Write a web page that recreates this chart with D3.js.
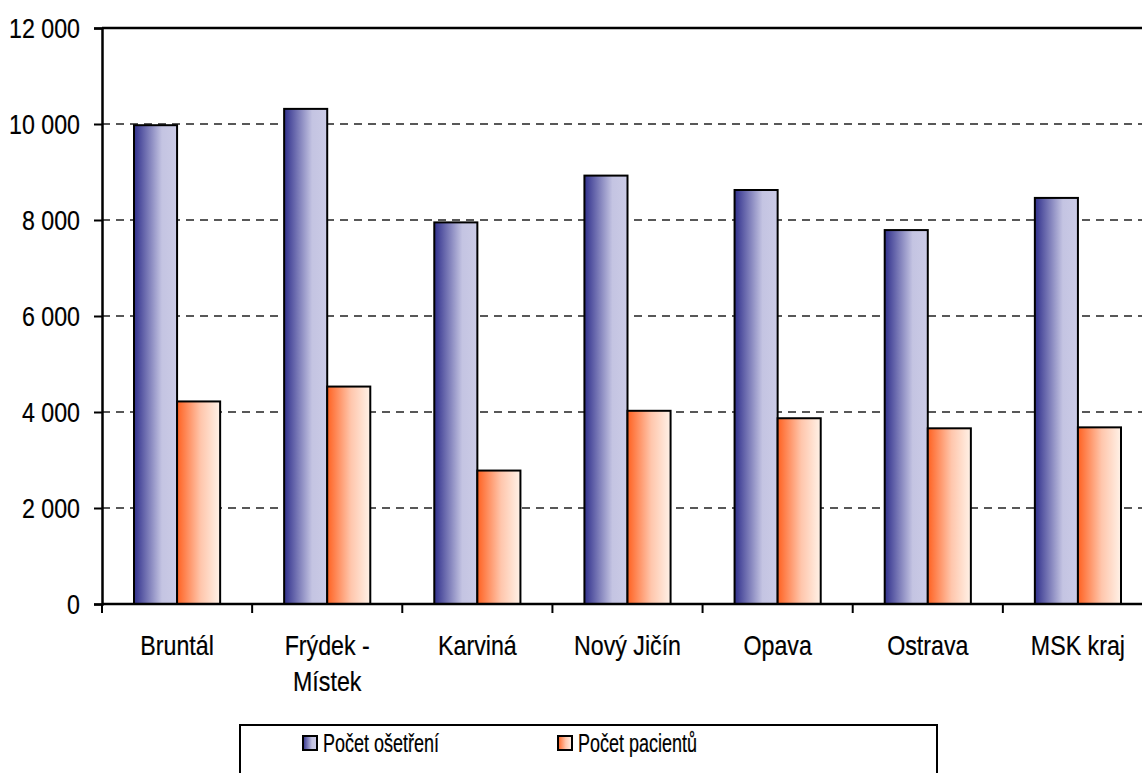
<!DOCTYPE html>
<html>
<head>
<meta charset="utf-8">
<script src="https://cdn.jsdelivr.net/npm/d3@7"></script>
<style>
  body { margin: 0; background: #fff; }
  svg { display: block; font-family: "Liberation Sans", Arial, sans-serif; }
  .lbl { fill: #000; stroke: #000; stroke-width: 0.2px; }
</style>
</head>
<body>
<div id="chart"></div>
<script>
// data
const categories = ["Bruntál", "Frýdek - Místek", "Karviná", "Nový Jičín", "Opava", "Ostrava", "MSK kraj"];
const catLabels = [["Bruntál"], ["Frýdek -", "Místek"], ["Karviná"], ["Nový Jičín"], ["Opava"], ["Ostrava"], ["MSK kraj"]];
const series = ["Počet ošetření", "Počet pacientů"];
const osetreni = [9975, 10315, 7950, 8925, 8625, 7790, 8460];
const pacientu = [4220, 4530, 2780, 4025, 3870, 3660, 3680];
const yTicks = [0, 2000, 4000, 6000, 8000, 10000, 12000];

const W = 1142, H = 773;
const margin = {top: 28, left: 102},
    plotW = 1051,
    plotH = 576;

const svg = d3.select("#chart").append("svg")
    .attr("width", W)
    .attr("height", H);

// gradients
const defs = svg.append("defs");
const gBlue = defs.append("linearGradient").attr("id", "gBlue");
gBlue.append("stop").attr("offset", "0%").attr("stop-color", "#30308c");
gBlue.append("stop").attr("offset", "65%").attr("stop-color", "#c4c4e2");
gBlue.append("stop").attr("offset", "100%").attr("stop-color", "#cbcbe6");
const gOrange = defs.append("linearGradient").attr("id", "gOrange");
gOrange.append("stop").attr("offset", "0%").attr("stop-color", "#ff6222");
gOrange.append("stop").attr("offset", "55%").attr("stop-color", "#ffc6ac");
gOrange.append("stop").attr("offset", "100%").attr("stop-color", "#fff2e8");
const fills = ["url(#gBlue)", "url(#gOrange)"];

const x = d3.scaleBand()
    .domain(categories)
    .range([margin.left, margin.left + plotW]);

const xs = d3.scaleBand()
    .domain(series)
    .range([32, x.bandwidth() - 32]);

const y = d3.scaleLinear()
    .domain([0, 12000])
    .range([margin.top + plotH, margin.top]);

// gridlines
svg.append("g")
    .selectAll("line")
    .data(yTicks.filter(d => d > 0 && d < 12000))
    .enter().append("line")
    .attr("x1", margin.left)
    .attr("x2", margin.left + plotW)
    .attr("y1", d => y(d))
    .attr("y2", d => y(d))
    .attr("stroke", "#222")
    .attr("stroke-width", 1.3)
    .attr("stroke-dasharray", "8,6");

// top frame line
svg.append("line")
    .attr("x1", margin.left).attr("x2", margin.left + plotW)
    .attr("y1", y(12000)).attr("y2", y(12000))
    .attr("stroke", "#000").attr("stroke-width", 2.5);

// bars
const rows = categories.map((c, i) => ({cat: c, vals: [osetreni[i], pacientu[i]]}));
const grp = svg.selectAll(".cat")
    .data(rows)
    .enter().append("g")
    .attr("transform", d => `translate(${x(d.cat)},0)`);

grp.selectAll("rect")
    .data(d => d.vals.map((v, j) => ({s: series[j], v: v, j: j})))
    .enter().append("rect")
    .attr("x", d => xs(d.s))
    .attr("width", xs.bandwidth())
    .attr("y", d => y(d.v))
    .attr("height", d => y(0) - y(d.v))
    .attr("fill", d => fills[d.j])
    .attr("stroke", "#000")
    .attr("stroke-width", 2);

// y axis
const yAxis = svg.append("g")
    .attr("transform", `translate(${margin.left},0)`)
    .call(d3.axisLeft(y).tickValues(yTicks).tickSize(8).tickPadding(0).tickFormat(d => d3.format(",")(d).replace(",", " ")));
yAxis.select(".domain").attr("stroke-width", 2.5);
yAxis.selectAll(".tick line").attr("stroke-width", 2);
yAxis.selectAll(".tick text")
    .attr("x", null).attr("dy", null)
    .attr("class", "lbl")
    .attr("transform", "translate(-22,9.5) scale(0.86,1)")
    .style("font-size", "27px")
    .style("font-family", "'Liberation Sans', Arial, sans-serif");

// x axis line and boundary ticks
svg.append("line")
    .attr("x1", margin.left).attr("x2", margin.left + plotW)
    .attr("y1", y(0)).attr("y2", y(0))
    .attr("stroke", "#000").attr("stroke-width", 2.5);

const edges = categories.map(c => x(c)).concat([x.range()[1]]);
svg.append("g").selectAll("line")
    .data(edges)
    .enter().append("line")
    .attr("x1", d => d).attr("x2", d => d)
    .attr("y1", y(0)).attr("y2", y(0) + 9)
    .attr("stroke", "#000").attr("stroke-width", 2);

// category labels
svg.append("g").selectAll("text")
    .data(categories)
    .enter().append("text")
    .attr("class", "lbl")
    .attr("transform", d => `translate(${x(d) + x.bandwidth() / 2},655) scale(0.86,1)`)
    .attr("text-anchor", "middle")
    .style("font-size", "27px")
    .each(function(d, i) {
        d3.select(this).selectAll("tspan")
            .data(catLabels[i])
            .enter().append("tspan")
            .attr("x", 0)
            .attr("dy", (t, k) => k === 0 ? 0 : 36)
            .text(t => t);
    });

// legend
const legend = svg.append("g");
legend.append("rect")
    .attr("x", 240).attr("y", 725)
    .attr("width", 697).attr("height", 70)
    .attr("fill", "#fff")
    .attr("stroke", "#000").attr("stroke-width", 2);

const legX = [303, 558];
series.forEach((s, i) => {
    legend.append("rect")
        .attr("x", legX[i]).attr("y", 736)
        .attr("width", 14).attr("height", 14)
        .attr("fill", fills[i])
        .attr("stroke", "#000").attr("stroke-width", 2);
    legend.append("text")
        .attr("class", "lbl")
        .attr("transform", `translate(${legX[i] + 20},752) scale(0.72,1)`)
        .style("font-size", "25px")
        .text(s);
});
</script>
</body>
</html>
